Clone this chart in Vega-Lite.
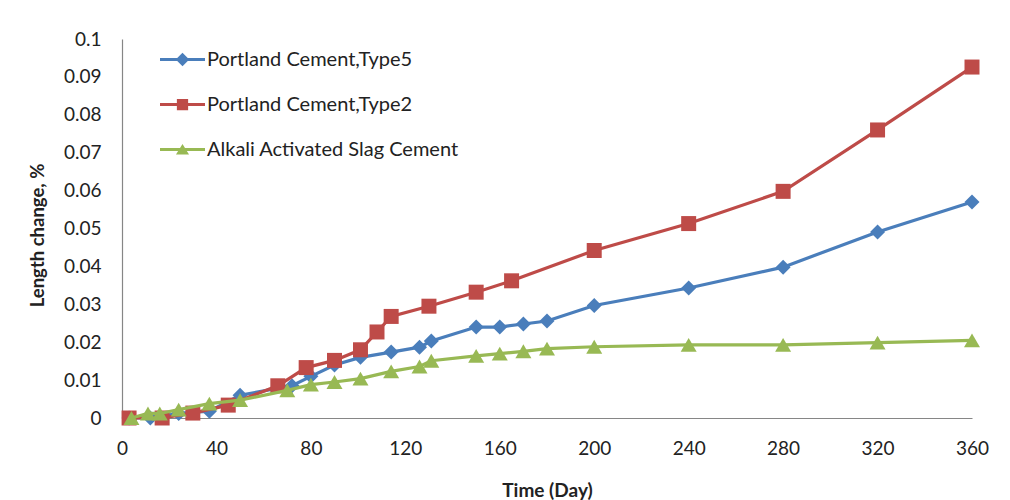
{
  "$schema": "https://vega.github.io/schema/vega-lite/v6.json",
  "autosize": {"type": "none"},
  "width": 850,
  "height": 379,
  "padding": {"left": 122, "top": 39, "right": 38, "bottom": 82},
  "background": "white",
  "config": {
    "view": {"stroke": null},
    "font": "Lato",
    "axis": {"labelFont": "Lato", "titleFont": "Lato"},
    "legend": {"labelFont": "Lato"}
  },
  "data": {
    "values": [
      {"series": "Portland Cement,Type5", "day": 3, "value": 0},
      {"series": "Portland Cement,Type5", "day": 12, "value": 0},
      {"series": "Portland Cement,Type5", "day": 24, "value": 0.0012},
      {"series": "Portland Cement,Type5", "day": 37, "value": 0.0018},
      {"series": "Portland Cement,Type5", "day": 50, "value": 0.006},
      {"series": "Portland Cement,Type5", "day": 72, "value": 0.0085},
      {"series": "Portland Cement,Type5", "day": 80, "value": 0.011},
      {"series": "Portland Cement,Type5", "day": 90, "value": 0.014},
      {"series": "Portland Cement,Type5", "day": 101, "value": 0.016},
      {"series": "Portland Cement,Type5", "day": 114, "value": 0.0174},
      {"series": "Portland Cement,Type5", "day": 126, "value": 0.0187},
      {"series": "Portland Cement,Type5", "day": 131, "value": 0.0203},
      {"series": "Portland Cement,Type5", "day": 150, "value": 0.024},
      {"series": "Portland Cement,Type5", "day": 160, "value": 0.024},
      {"series": "Portland Cement,Type5", "day": 170, "value": 0.0248},
      {"series": "Portland Cement,Type5", "day": 180, "value": 0.0256},
      {"series": "Portland Cement,Type5", "day": 200, "value": 0.0297},
      {"series": "Portland Cement,Type5", "day": 240, "value": 0.0343},
      {"series": "Portland Cement,Type5", "day": 280, "value": 0.0398},
      {"series": "Portland Cement,Type5", "day": 320, "value": 0.0491},
      {"series": "Portland Cement,Type5", "day": 360, "value": 0.057},
      {"series": "Portland Cement,Type2", "day": 3, "value": 0},
      {"series": "Portland Cement,Type2", "day": 17, "value": 0},
      {"series": "Portland Cement,Type2", "day": 30, "value": 0.0013},
      {"series": "Portland Cement,Type2", "day": 45, "value": 0.0034},
      {"series": "Portland Cement,Type2", "day": 66, "value": 0.0085},
      {"series": "Portland Cement,Type2", "day": 78, "value": 0.0133},
      {"series": "Portland Cement,Type2", "day": 90, "value": 0.0152},
      {"series": "Portland Cement,Type2", "day": 101, "value": 0.018},
      {"series": "Portland Cement,Type2", "day": 108, "value": 0.0227},
      {"series": "Portland Cement,Type2", "day": 114, "value": 0.0268},
      {"series": "Portland Cement,Type2", "day": 130, "value": 0.0295},
      {"series": "Portland Cement,Type2", "day": 150, "value": 0.0332},
      {"series": "Portland Cement,Type2", "day": 165, "value": 0.0362},
      {"series": "Portland Cement,Type2", "day": 200, "value": 0.0442},
      {"series": "Portland Cement,Type2", "day": 240, "value": 0.0513},
      {"series": "Portland Cement,Type2", "day": 280, "value": 0.0598},
      {"series": "Portland Cement,Type2", "day": 320, "value": 0.076},
      {"series": "Portland Cement,Type2", "day": 360, "value": 0.0926},
      {"series": "Alkali Activated Slag Cement", "day": 4, "value": 0},
      {"series": "Alkali Activated Slag Cement", "day": 11, "value": 0.0012},
      {"series": "Alkali Activated Slag Cement", "day": 16, "value": 0.0012},
      {"series": "Alkali Activated Slag Cement", "day": 24, "value": 0.0022},
      {"series": "Alkali Activated Slag Cement", "day": 37, "value": 0.0038},
      {"series": "Alkali Activated Slag Cement", "day": 50, "value": 0.0047},
      {"series": "Alkali Activated Slag Cement", "day": 70, "value": 0.0073},
      {"series": "Alkali Activated Slag Cement", "day": 80, "value": 0.0088},
      {"series": "Alkali Activated Slag Cement", "day": 90, "value": 0.0095},
      {"series": "Alkali Activated Slag Cement", "day": 101, "value": 0.0104},
      {"series": "Alkali Activated Slag Cement", "day": 114, "value": 0.0123},
      {"series": "Alkali Activated Slag Cement", "day": 126, "value": 0.0136},
      {"series": "Alkali Activated Slag Cement", "day": 131, "value": 0.0151},
      {"series": "Alkali Activated Slag Cement", "day": 150, "value": 0.0164},
      {"series": "Alkali Activated Slag Cement", "day": 160, "value": 0.017},
      {"series": "Alkali Activated Slag Cement", "day": 170, "value": 0.0176},
      {"series": "Alkali Activated Slag Cement", "day": 180, "value": 0.0183},
      {"series": "Alkali Activated Slag Cement", "day": 200, "value": 0.0188},
      {"series": "Alkali Activated Slag Cement", "day": 240, "value": 0.0193},
      {"series": "Alkali Activated Slag Cement", "day": 280, "value": 0.0193},
      {"series": "Alkali Activated Slag Cement", "day": 320, "value": 0.0199},
      {"series": "Alkali Activated Slag Cement", "day": 360, "value": 0.0205}
    ]
  },
  "encoding": {
    "x": {
      "field": "day", "type": "quantitative",
      "scale": {"domain": [0, 360], "nice": false, "zero": false},
      "axis": {
        "title": "Time (Day)",
        "values": [0, 40, 80, 120, 160, 200, 240, 280, 320, 360],
        "grid": false, "ticks": false,
        "domainColor": "#868686", "domainWidth": 1.2,
        "labelFontSize": 19, "labelColor": "#222222", "labelPadding": 21,
        "labelFlush": false,
        "titleFontSize": 19, "titleFontWeight": "bold", "titleColor": "#222222",
        "titleY": 72, "titleBaseline": "middle"
      }
    },
    "y": {
      "field": "value", "type": "quantitative",
      "scale": {"domain": [0, 0.1], "nice": false},
      "axis": {
        "title": "Length change, %",
        "values": [0, 0.01, 0.02, 0.03, 0.04, 0.05, 0.06, 0.07, 0.08, 0.09, 0.1],
        "format": "~g",
        "grid": false, "ticks": false,
        "domainColor": "#868686", "domainWidth": 1.2,
        "labelFontSize": 19, "labelColor": "#222222", "labelPadding": 21,
        "labelFlush": false,
        "titleFontSize": 18.5, "titleFontWeight": "bold", "titleColor": "#222222",
        "titleX": -85, "titleY": 196, "titleAngle": 270,
        "titleAlign": "center", "titleBaseline": "middle"
      }
    }
  },
  "layer": [
    {
      "transform": [{"filter": {"field": "series", "equal": "Portland Cement,Type5"}}],
      "mark": {"type": "line", "strokeWidth": 3.2, "color": "#4A7EBB",
               "point": {"filled": true, "opacity": 1, "size": 225, "shape": "diamond", "color": "#4A7EBB"}},
      "encoding": {}
    },
    {
      "transform": [{"filter": {"field": "series", "equal": "Portland Cement,Type2"}}],
      "mark": {"type": "line", "strokeWidth": 3.2, "color": "#BE4B48",
               "point": {"filled": true, "opacity": 1, "size": 225, "shape": "square", "color": "#BE4B48"}},
      "encoding": {}
    },
    {
      "transform": [{"filter": {"field": "series", "equal": "Alkali Activated Slag Cement"}}],
      "mark": {"type": "line", "strokeWidth": 3.2, "color": "#98B954",
               "point": {"filled": true, "opacity": 1, "size": 256, "shape": "triangle-up", "color": "#98B954"}},
      "encoding": {}
    },
    {
      "mark": {"type": "point", "filled": true, "opacity": 0},
      "encoding": {
        "color": {
          "field": "series", "type": "nominal",
          "scale": {
            "domain": ["Portland Cement,Type5", "Portland Cement,Type2", "Alkali Activated Slag Cement"],
            "range": ["#4A7EBB", "#BE4B48", "#98B954"]
          },
          "legend": {
            "title": null, "orient": "none", "legendX": 38, "legendY": -2,
            "padding": 0, "rowPadding": 12, "symbolSize": 2025, "symbolOpacity": 1,
            "symbolStrokeWidth": 0, "labelOffset": 2,
            "labelFontSize": 20, "labelColor": "#222222", "labelLimit": 400
          }
        },
        "shape": {
          "field": "series", "type": "nominal",
          "scale": {
            "domain": ["Portland Cement,Type5", "Portland Cement,Type2", "Alkali Activated Slag Cement"],
            "range": [
              "M-1,-0.067H1V0.067H-1Z M0,-0.3L0.3,0L0,0.3L-0.3,0Z",
              "M-1,-0.067H1V0.067H-1Z M-0.25,-0.25H0.25V0.25H-0.25Z",
              "M-1,-0.067H1V0.067H-1Z M0,-0.25L0.29,0.22L-0.29,0.22Z"
            ]
          },
          "legend": {
            "title": null, "orient": "none", "legendX": 38, "legendY": -2,
            "padding": 0, "rowPadding": 12, "symbolSize": 2025, "symbolOpacity": 1,
            "symbolStrokeWidth": 0, "labelOffset": 2,
            "labelFontSize": 20, "labelColor": "#222222", "labelLimit": 400
          }
        }
      }
    }
  ]
}
